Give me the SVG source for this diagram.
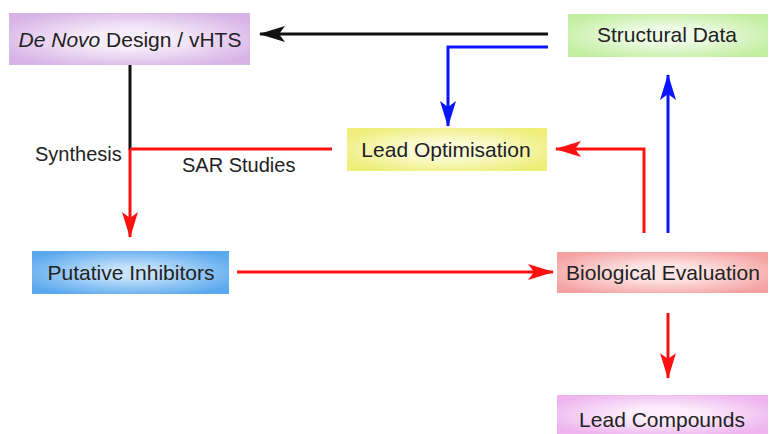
<svg xmlns="http://www.w3.org/2000/svg" width="770" height="434" viewBox="0 0 770 434">
<style>
text{font-family:"Liberation Sans",Arial,sans-serif;font-size:20px;fill:#222;}
.c{text-anchor:middle;font-size:21px;}
.ln{fill:none;stroke-width:3;}
</style>
<defs>
<radialGradient id="gP" cx="0.5" cy="0.5" r="0.6"><stop offset="0.3" stop-color="#f6ecfa"/><stop offset="1" stop-color="#d7b3e6"/></radialGradient>
<radialGradient id="gG" cx="0.5" cy="0.5" r="0.6"><stop offset="0.3" stop-color="#eefbe6"/><stop offset="1" stop-color="#c2ee9f"/></radialGradient>
<radialGradient id="gY" cx="0.5" cy="0.5" r="0.6"><stop offset="0.3" stop-color="#fbfbd6"/><stop offset="1" stop-color="#eeee78"/></radialGradient>
<radialGradient id="gB" cx="0.5" cy="0.5" r="0.6"><stop offset="0.2" stop-color="#c6e3fb"/><stop offset="1" stop-color="#5aa8ee"/></radialGradient>
<radialGradient id="gR" cx="0.5" cy="0.5" r="0.6"><stop offset="0.3" stop-color="#fde4e4"/><stop offset="1" stop-color="#f5a2a2"/></radialGradient>
<radialGradient id="gM" cx="0.5" cy="0.5" r="0.6"><stop offset="0.3" stop-color="#fcecfc"/><stop offset="1" stop-color="#eeb4ee"/></radialGradient>
<marker id="aK" markerUnits="userSpaceOnUse" markerWidth="28" markerHeight="18" refX="25" refY="8" orient="auto"><path d="M0,0 L26,8 L0,16 L6,8 z" fill="#111"/></marker>
<marker id="aB" markerUnits="userSpaceOnUse" markerWidth="28" markerHeight="18" refX="25" refY="8" orient="auto"><path d="M0,0 L26,8 L0,16 L6,8 z" fill="#0a14ff"/></marker>
<marker id="aR" markerUnits="userSpaceOnUse" markerWidth="28" markerHeight="18" refX="25" refY="8" orient="auto"><path d="M0,0 L26,8 L0,16 L6,8 z" fill="#ff1010"/></marker>
</defs>
<rect width="770" height="434" fill="#fff"/>
<g id="connectors">
<line class="ln" x1="548" y1="34" x2="260" y2="34" stroke="#111" marker-end="url(#aK)"/>
<polyline class="ln" points="548,47 448,47 448,126" stroke="#0a14ff" marker-end="url(#aB)"/>
<line class="ln" x1="130" y1="65" x2="130" y2="150" stroke="#111"/>
<line class="ln" x1="130" y1="149" x2="130" y2="237" stroke="#ff1010" marker-end="url(#aR)"/>
<line class="ln" x1="130" y1="149" x2="332" y2="149" stroke="#ff1010"/>
<polyline class="ln" points="644,233 644,149 556,149" stroke="#ff1010" marker-end="url(#aR)"/>
<line class="ln" x1="668" y1="233" x2="668" y2="75" stroke="#0a14ff" marker-end="url(#aB)"/>
<line class="ln" x1="237" y1="272" x2="553" y2="272" stroke="#ff1010" marker-end="url(#aR)"/>
<line class="ln" x1="668" y1="313" x2="668" y2="378" stroke="#ff1010" marker-end="url(#aR)"/>
<text x="35" y="161">Synthesis</text>
<text x="182" y="172">SAR Studies</text>
</g>
<g id="denovo">
<rect x="9" y="13" width="241" height="52" fill="url(#gP)"/>
<text class="c" x="130" y="47"><tspan font-style="italic">De Novo</tspan> Design / vHTS</text>
</g>
<g id="structural">
<rect x="568" y="14" width="200" height="43" fill="url(#gG)"/>
<text class="c" x="667" y="42">Structural Data</text>
</g>
<g id="leadopt">
<rect x="347" y="128" width="200" height="43" fill="url(#gY)"/>
<text class="c" x="446" y="157">Lead Optimisation</text>
</g>
<g id="putative">
<rect x="32" y="251" width="197" height="43" fill="url(#gB)"/>
<text class="c" x="131" y="280">Putative Inhibitors</text>
</g>
<g id="biological">
<rect x="557" y="252" width="211" height="41" fill="url(#gR)"/>
<text class="c" x="663" y="280">Biological Evaluation</text>
</g>
<g id="leadcomp">
<rect x="557" y="395" width="211" height="39" fill="url(#gM)"/>
<text class="c" x="662" y="427">Lead Compounds</text>
</g>
</svg>
